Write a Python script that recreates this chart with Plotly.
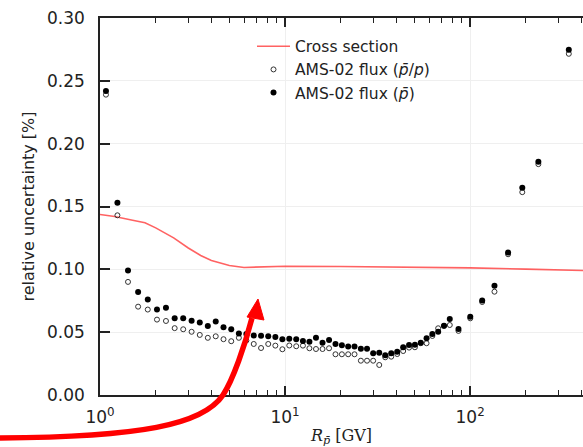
import plotly.graph_objects as go

# ---------------- data ----------------
rigidity = [1.077, 1.242, 1.417, 1.607, 1.812, 2.032, 2.272, 2.532, 2.816, 3.126,
            3.461, 3.825, 4.220, 4.649, 5.119, 5.629, 6.179, 6.773, 7.418, 8.112,
            8.862, 9.671, 10.54, 11.49, 12.49, 13.54, 14.69, 15.94, 17.29, 18.73,
            20.28, 21.93, 23.73, 25.68, 27.73, 29.93, 32.28, 34.78, 37.47, 40.37,
            43.47, 46.77, 50.32, 54.12, 58.16, 62.51, 67.20, 72.25, 77.65, 86.52,
            100.2, 116.2, 135.4, 160.4, 191.4, 233.8, 341.4]

flux_pbar = [0.242, 0.153, 0.099, 0.082, 0.076, 0.068, 0.0694, 0.061, 0.061, 0.059,
             0.0576, 0.055, 0.0584, 0.0539, 0.0523, 0.049, 0.0486, 0.0474, 0.0471, 0.0467,
             0.0462, 0.0444, 0.0447, 0.0443, 0.043, 0.0424, 0.0456, 0.0416, 0.0438, 0.0406,
             0.0396, 0.0385, 0.0385, 0.0369, 0.0369, 0.0332, 0.0337, 0.0316, 0.0332, 0.0345,
             0.038, 0.0398, 0.040, 0.0416, 0.0451, 0.0486, 0.0504, 0.0552, 0.0605, 0.0525,
             0.0623, 0.0752, 0.087, 0.1133, 0.165, 0.1857, 0.2747]

flux_ratio = [0.239, 0.143, 0.090, 0.0703, 0.068, 0.060, 0.0589, 0.0532, 0.0523, 0.0503,
              0.0478, 0.0455, 0.0467, 0.0444, 0.0428, 0.0455, 0.0434, 0.0406, 0.0374, 0.0406,
              0.0393, 0.0364, 0.0394, 0.0388, 0.0393, 0.0372, 0.0366, 0.0366, 0.0372, 0.0324,
              0.0324, 0.0324, 0.0324, 0.0273, 0.0273, 0.0273, 0.0239, 0.030, 0.0305, 0.0326,
              0.035, 0.0377, 0.038, 0.0412, 0.0412, 0.047, 0.0531, 0.055, 0.0557, 0.051,
              0.061, 0.074, 0.0822, 0.112, 0.1614, 0.1837, 0.2715]

xs_rigidity = [1.0, 1.2, 1.5, 1.75, 2.0, 2.5, 3.0, 3.5, 4.0, 5.0, 6.0, 8.0, 10.0,
               20.0, 50.0, 100.0, 200.0, 420.0]
xs_uncert = [0.1436, 0.142, 0.139, 0.137, 0.133, 0.125, 0.117, 0.111, 0.107, 0.103,
             0.1015, 0.1018, 0.1025, 0.1022, 0.1018, 0.1012, 0.1002, 0.099]

major_ticks = [1, 10, 100]
major_labels = ["10<sup>0</sup>", "10<sup>1</sup>", "10<sup>2</sup>"]
minor_ticks = [m * d for d in (1, 10, 100) for m in range(2, 10)]

# ---------------- figure ----------------
W, H = 583, 447
ML, MR, MT, MB = 100, 0, 18, 52

fig = go.Figure()
fig.add_trace(go.Scatter(x=xs_rigidity, y=xs_uncert, mode="lines", name="Cross section",
                         line=dict(color="rgba(255,70,70,0.85)", width=1.6)))
fig.add_trace(go.Scatter(x=rigidity, y=flux_ratio, mode="markers",
                         name="AMS-02 flux (<i>p̄</i>/<i>p</i>)",
                         marker=dict(symbol="circle-open", size=5, color="#333",
                                     line=dict(width=1, color="#333"))))
fig.add_trace(go.Scatter(x=rigidity, y=flux_pbar, mode="markers",
                         name="AMS-02 flux (<i>p̄</i>)",
                         marker=dict(symbol="circle", size=6, color="black")))

axis_font = dict(family="DejaVu Sans", size=17, color="#222")

fig.update_xaxes(type="log", range=[0, 2.61], tickmode="array", tickvals=major_ticks,
                 ticktext=major_labels, ticks="inside", ticklen=9, tickwidth=1.5,
                 tickcolor="#222", showline=True, linewidth=1.5, linecolor="#222",
                 mirror="ticks", showgrid=True, gridcolor="#efefef", gridwidth=1,
                 zeroline=False, tickfont=axis_font, ticklabelstandoff=6,
                 minor=dict(tickmode="array", tickvals=minor_ticks, ticks="inside",
                            ticklen=5, tickwidth=1, tickcolor="#222", showgrid=False),
                 title=dict(text="<i>R</i><sub><i>p̄</i></sub> [GV]",
                            font=dict(family="DejaVu Serif", size=16, color="#222"),
                            standoff=6))
fig.update_yaxes(range=[0, 0.30], dtick=0.05, tickformat=".2f", ticks="inside",
                 ticklen=10, tickwidth=1.5, tickcolor="#222", showline=True,
                 linewidth=1.5, linecolor="#222", mirror=False, showgrid=True,
                 gridcolor="#efefef", gridwidth=1, zeroline=False, tickfont=axis_font,
                 ticklabelstandoff=10,
                 title=dict(text="relative uncertainty [%]",
                            font=dict(family="DejaVu Sans", size=16, color="#222"),
                            standoff=8))

# red arrow overlay (pixel coordinates -> paper)
PW, PH = W - ML - MR, H - MT - MB
def px(x):
    return (x - ML) / PW
def py(y):
    return (H - MB - y) / PH

curve = (f"M {px(0)},{py(438)} C {px(140)},{py(437)} {px(203)},{py(425)} {px(223)},{py(395)} "
         f"C {px(233)},{py(380)} {px(245)},{py(345)} {px(252)},{py(318)}")
head = (f"M {px(258)},{py(299)} L {px(247)},{py(317)} L {px(264)},{py(320)} Z")
fig.add_shape(type="path", path=curve, xref="paper", yref="paper",
              line=dict(color="#ff0000", width=5.5), layer="above")
fig.add_shape(type="path", path=head, xref="paper", yref="paper",
              line=dict(color="#ff0000", width=1), fillcolor="#ff0000", layer="above")

fig.update_layout(width=W, height=H, margin=dict(l=ML, r=MR, t=MT, b=MB),
                  plot_bgcolor="white", paper_bgcolor="white",
                  font=dict(family="DejaVu Sans", color="#222"),
                  legend=dict(x=0.3147, y=0.969, xanchor="left", yanchor="top",
                              bgcolor="rgba(255,255,255,0)",
                              font=dict(family="DejaVu Sans", size=15.5, color="#222"),
                              tracegroupgap=0, itemwidth=33))

fig.write_html("out.html")
